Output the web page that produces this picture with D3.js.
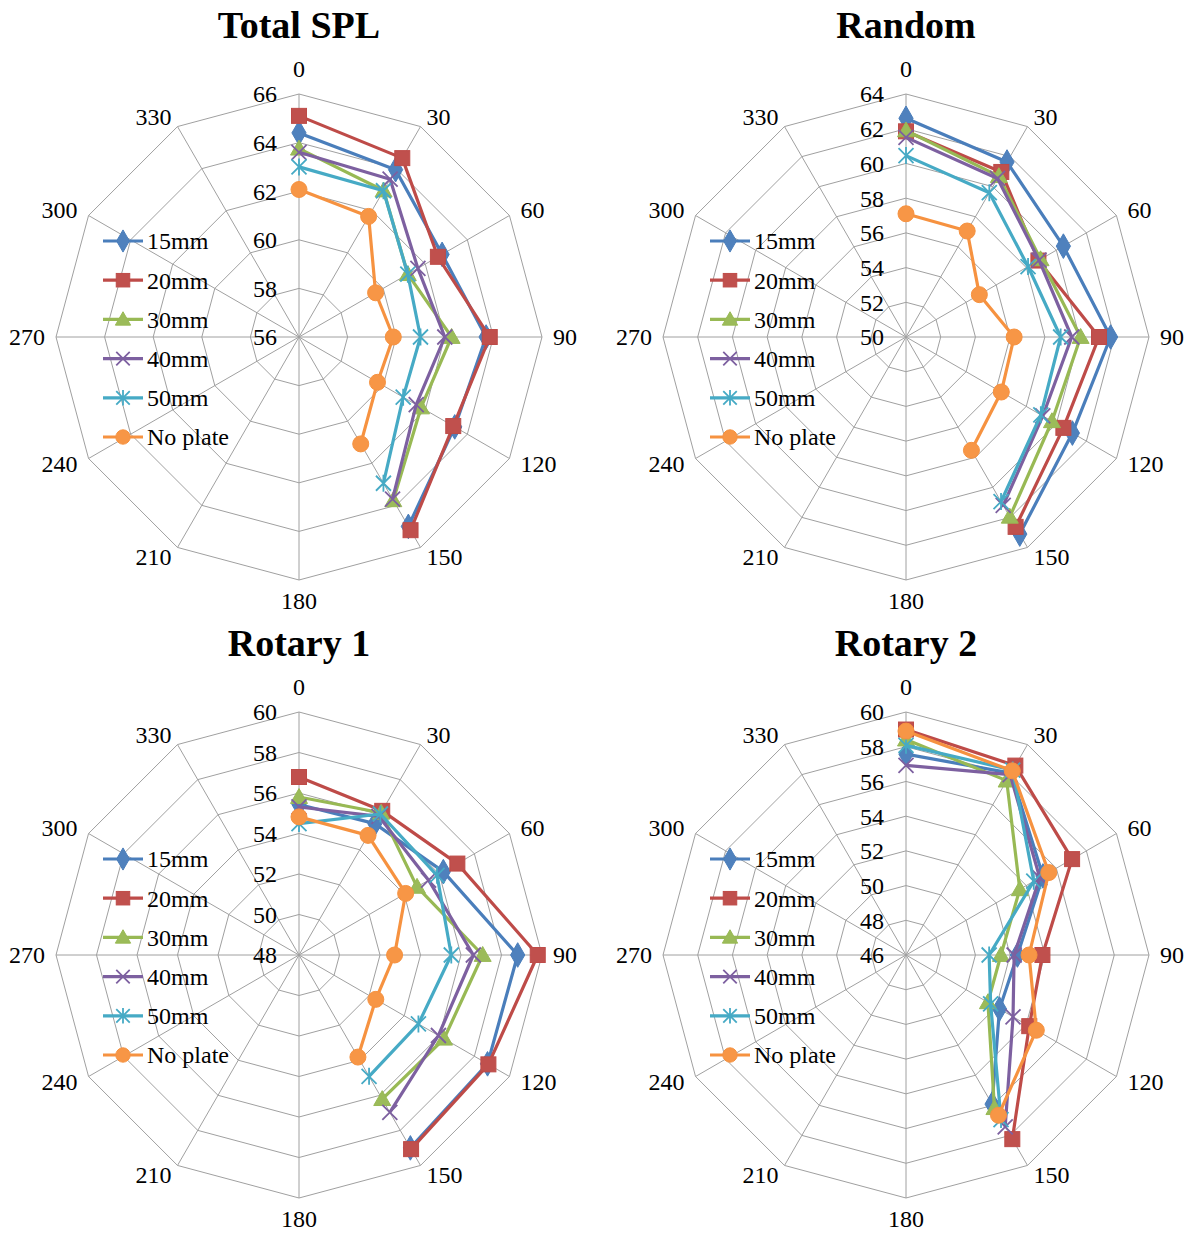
<!DOCTYPE html>
<html>
<head>
<meta charset="utf-8">
<script src="https://cdn.jsdelivr.net/npm/d3@7"></script>
<style>
  html, body { margin: 0; padding: 0; background: #fff; }
  svg { display: block; }
  text { font-family: "Liberation Serif", "Times New Roman", serif; fill: #000; }
</style>
</head>
<body>
<svg id="chart" width="1192" height="1234"></svg>
<script>
// Directions (degrees) around each radar
const angles = [0, 30, 60, 90, 120, 150, 180, 210, 240, 270, 300, 330];
// Directions that carry measurements
const measuredAngles = [0, 30, 60, 90, 120, 150];

const seriesNames = ["15mm", "20mm", "30mm", "40mm", "50mm", "No plate"];
const seriesColors = ["#4A7EBB", "#BE4B48", "#98B954", "#7D60A0", "#46AAC5", "#F69240"];
const markerFills = ["#4F81BD", "#C0504D", "#9BBB59", "#8064A2", "#4BACC6", "#F79646"];
const markerTypes = ["diamond", "square", "triangle", "x", "star", "circle"];

const panelTitles = ["Total SPL", "Random", "Rotary 1", "Rotary 2"];
const axisMins = [56, 50, 48, 46];
const axisMaxs = [66, 64, 60, 60];
const axisSteps = [2, 2, 2, 2];

// SPL values (dB) per series at 0..150 degrees
const totalSPL = [
  [64.4, 63.95, 62.8, 63.7, 63.4, 65.0],
  [65.1, 64.5, 62.6, 63.85, 63.33, 65.18],
  [63.75, 62.96, 61.17, 62.28, 61.8, 63.76],
  [63.6, 63.5, 61.65, 62.0, 61.57, 63.7],
  [63.0, 62.95, 61.17, 61.0, 60.95, 62.95],
  [62.07, 61.73, 59.64, 59.88, 59.73, 61.08]
];
const randomSPL = [
  [62.6, 61.64, 60.47, 61.79, 61.07, 63.11],
  [61.85, 60.98, 58.81, 61.12, 60.47, 62.63],
  [61.9, 60.7, 58.95, 60.06, 59.71, 61.96],
  [61.5, 60.55, 58.85, 59.55, 59.1, 61.2],
  [60.45, 59.6, 58.12, 58.91, 58.97, 60.95],
  [57.1, 57.05, 54.88, 56.23, 56.34, 57.54]
];
const rotary1SPL = [
  [55.43, 55.49, 56.23, 58.8, 58.75, 59.0],
  [56.79, 56.22, 57.03, 59.79, 58.8, 59.07],
  [55.8, 56.11, 54.73, 57.07, 56.27, 56.22],
  [55.31, 55.9, 55.39, 56.61, 55.95, 56.97],
  [54.49, 56.04, 55.87, 55.52, 54.81, 54.92],
  [54.82, 54.82, 54.08, 52.72, 52.38, 53.82]
];
const rotary2SPL = [
  [57.57, 58.1, 55.11, 52.42, 52.22, 55.92],
  [58.99, 58.6, 57.05, 53.86, 54.2, 58.25],
  [58.41, 57.6, 53.57, 51.47, 51.45, 56.19],
  [56.93, 58.0, 54.9, 52.23, 53.12, 57.43],
  [58.08, 58.3, 54.5, 50.79, 51.63, 56.95],
  [58.9, 58.25, 55.5, 53.09, 54.67, 56.66]
];
const panelData = [totalSPL, randomSPL, rotary1SPL, rotary2SPL];

const svg = d3.select("#chart");
const W = 1192, H = 1234;
svg.append("rect").attr("width", W).attr("height", H).attr("fill", "#fff");

const R = 243;
const panelCenters = [[299, 337], [906, 337], [299, 955], [906, 955]];
const gridColor = "#A0A0A0";
const labelSize = 24;

function drawMarker(g, type, x, y, i, k = 1) {
  const col = seriesColors[i], fill = markerFills[i];
  if (type === "diamond") {
    g.append("path").attr("d", d3.symbol(d3.symbolDiamond, 175 * k * k)())
      .attr("transform", `translate(${x},${y})`).attr("fill", fill).attr("stroke", col).attr("stroke-width", 1);
  } else if (type === "square") {
    const s = 7.5 * k;
    g.append("rect").attr("x", x - s).attr("y", y - s).attr("width", 2 * s).attr("height", 2 * s)
      .attr("fill", fill).attr("stroke", col).attr("stroke-width", 1);
  } else if (type === "triangle") {
    const s = 8.5 * k;
    g.append("path").attr("d", `M${x},${y - s}L${x + s},${y + s * 0.75}L${x - s},${y + s * 0.75}Z`)
      .attr("fill", fill).attr("stroke", col).attr("stroke-width", 1);
  } else if (type === "circle") {
    g.append("circle").attr("cx", x).attr("cy", y).attr("r", 8 * k)
      .attr("fill", fill).attr("stroke", col).attr("stroke-width", 1);
  } else if (type === "x" || type === "star") {
    const s = 7.5 * k;
    const p = `M${x - s},${y - s}L${x + s},${y + s}M${x - s},${y + s}L${x + s},${y - s}` +
      (type === "star" ? `M${x},${y - s - 1}L${x},${y + s + 1}` : "");
    g.append("path").attr("d", p).attr("fill", "none").attr("stroke", col).attr("stroke-width", 1.8);
  }
}

panelTitles.forEach((title, p) => {
  const [cx, cy] = panelCenters[p];
  const g = svg.append("g").attr("transform", `translate(${cx},${cy})`);
  const rScale = d3.scaleLinear().domain([axisMins[p], axisMaxs[p]]).range([0, R]);
  const ticks = d3.range(axisMins[p], axisMaxs[p] + 0.001, axisSteps[p]);
  const unit = a => [Math.sin(a * Math.PI / 180), -Math.cos(a * Math.PI / 180)];

  // concentric 12-sided grid rings
  ticks.slice(1).forEach(t => {
    const pts = angles.map(a => { const u = unit(a); return [u[0] * rScale(t), u[1] * rScale(t)]; });
    g.append("path").attr("d", d3.line().curve(d3.curveLinearClosed)(pts))
      .attr("fill", "none").attr("stroke", gridColor).attr("stroke-width", 1);
  });
  // spokes
  angles.forEach(a => {
    const u = unit(a);
    g.append("line").attr("x1", 0).attr("y1", 0).attr("x2", u[0] * R).attr("y2", u[1] * R)
      .attr("stroke", gridColor).attr("stroke-width", 1);
  });

  // value labels along the 0 spoke
  ticks.forEach(t => {
    g.append("text").attr("x", -22).attr("y", -rScale(t)).attr("dy", "0.35em")
      .attr("text-anchor", "end").attr("font-size", labelSize).text(t);
  });

  // direction labels
  angles.forEach(a => {
    const u = unit(a);
    const vx = u[0] * R, vy = u[1] * R;
    const t = g.append("text").attr("font-size", labelSize).text(a);
    if (Math.abs(u[0]) < 0.01) {
      t.attr("x", vx).attr("y", vy + (u[1] < 0 ? -25 : 21)).attr("dy", "0.35em").attr("text-anchor", "middle");
    } else {
      const gx = Math.abs(u[0]) < 0.7 ? 6 : 11;
      t.attr("x", vx + Math.sign(u[0]) * gx).attr("y", vy + 11 * u[1]).attr("dy", "0.35em")
        .attr("text-anchor", u[0] > 0 ? "start" : "end");
    }
  });

  // series lines and markers
  panelData[p].forEach((vals, i) => {
    const pts = vals.map((v, k) => { const u = unit(measuredAngles[k]); return [u[0] * rScale(v), u[1] * rScale(v)]; });
    const sg = g.append("g");
    sg.append("path").attr("d", d3.line()(pts)).attr("fill", "none")
      .attr("stroke", seriesColors[i]).attr("stroke-width", 3.2).attr("stroke-linejoin", "round");
    pts.forEach(pt => drawMarker(sg, markerTypes[i], pt[0], pt[1], i));
  });

  // title
  svg.append("text").attr("x", cx).attr("y", cy - 299).attr("text-anchor", "middle")
    .attr("font-size", 38).attr("font-weight", "bold").text(title);

  // legend
  const lg = svg.append("g");
  seriesNames.forEach((name, i) => {
    const y = cy - 96 + i * 39.2;
    const x0 = cx - 196;
    lg.append("line").attr("x1", x0).attr("x2", x0 + 40).attr("y1", y).attr("y2", y)
      .attr("stroke", seriesColors[i]).attr("stroke-width", 3.2);
    drawMarker(lg, markerTypes[i], x0 + 20, y, i, 0.9);
    lg.append("text").attr("x", x0 + 44).attr("y", y).attr("dy", "0.35em").attr("font-size", labelSize).text(name);
  });
});
</script>
</body>
</html>
